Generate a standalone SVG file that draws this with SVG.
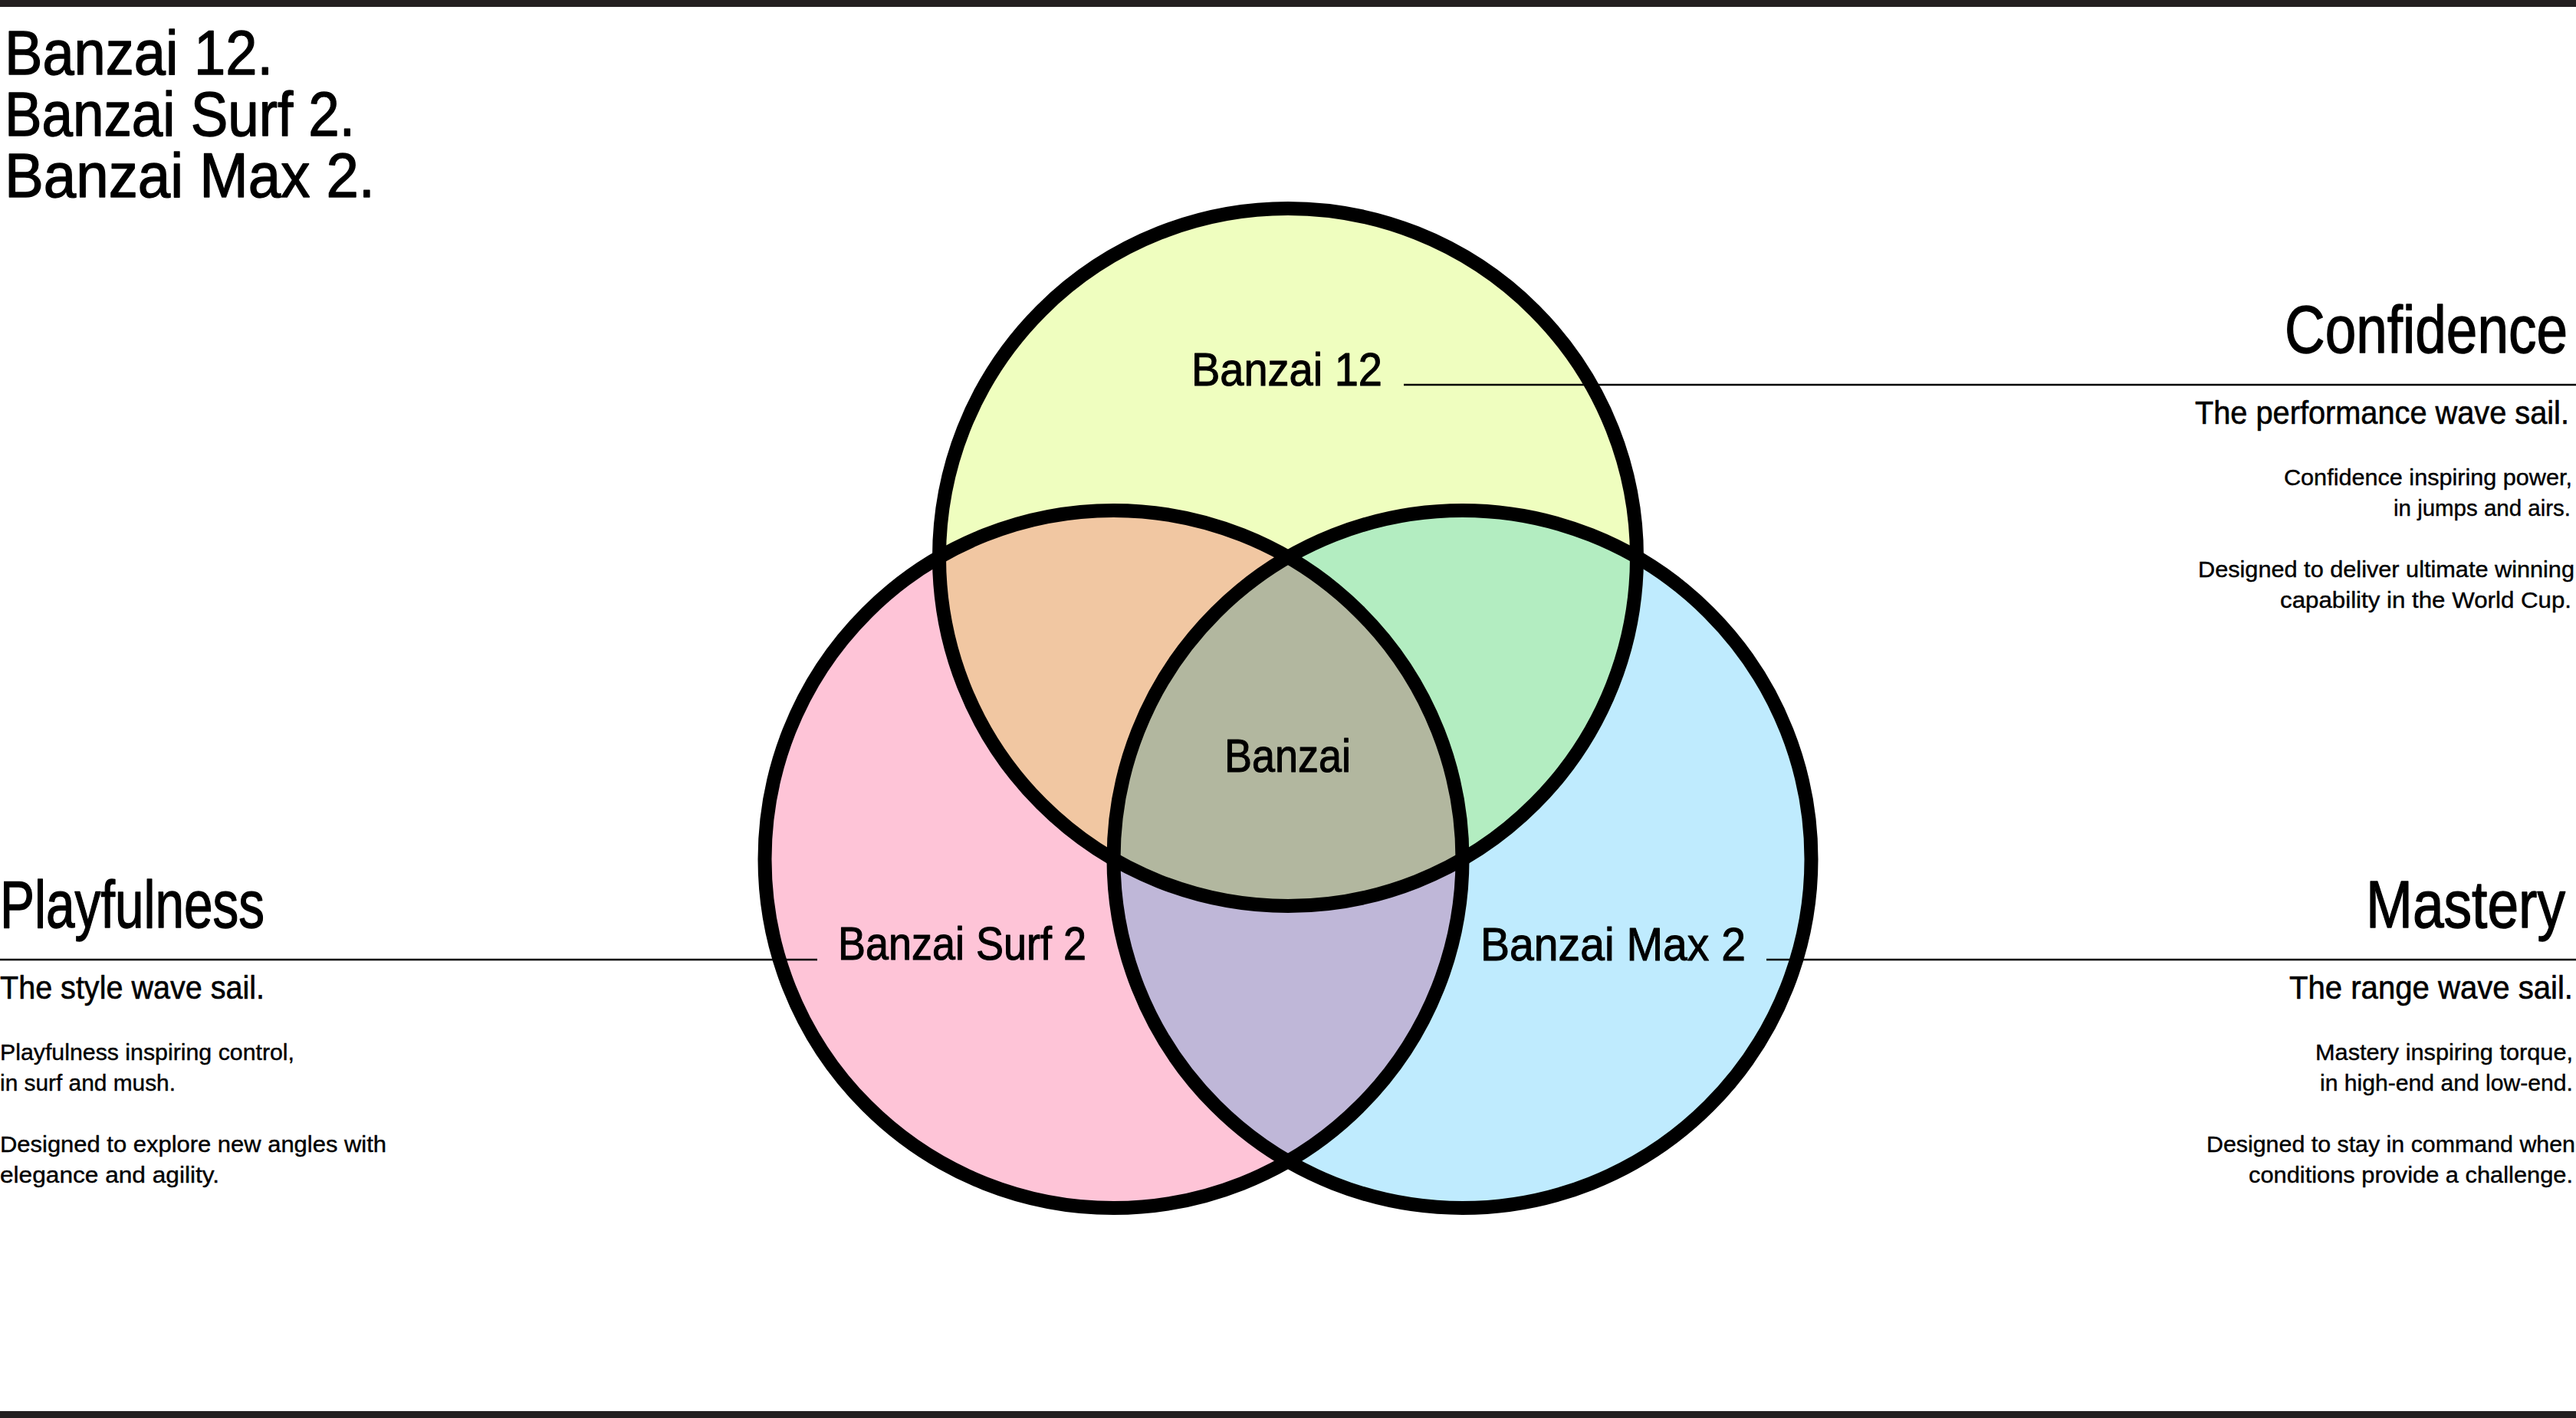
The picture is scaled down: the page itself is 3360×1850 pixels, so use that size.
<svg xmlns="http://www.w3.org/2000/svg" width="3360" height="1850" viewBox="0 0 3360 1850">
<style>
text{font-family:"Liberation Sans",Arial,sans-serif;fill:#000;stroke:#000;stroke-linejoin:round}
.title{font-size:82px;stroke-width:1.4}
.head{font-size:87px;stroke-width:1.4}
.lbl{font-size:62px;stroke-width:1.1}
.sub{font-size:42px;stroke-width:0.6}
.body{font-size:29px;stroke-width:0.4}
.r{text-anchor:end}
.ring{fill:none;stroke:#000;stroke-width:18}
.conn{stroke:#000;stroke-width:2.5;fill:none}
</style>
<defs>
<clipPath id="clipT"><circle cx="1680" cy="727" r="455"/></clipPath>
<clipPath id="clipL"><circle cx="1452.5" cy="1121" r="455"/></clipPath>
</defs>
<rect x="0" y="0" width="3360" height="1850" fill="#fff"/>
<rect x="0" y="0" width="3360" height="9" fill="#231F20"/>
<rect x="0" y="1841" width="3360" height="9" fill="#231F20"/>

<g id="header">
<text class="title" x="6" y="97" textLength="350" lengthAdjust="spacingAndGlyphs">Banzai 12.</text>
<text class="title" x="6" y="177" textLength="457" lengthAdjust="spacingAndGlyphs">Banzai Surf 2.</text>
<text class="title" x="6" y="257" textLength="483" lengthAdjust="spacingAndGlyphs">Banzai Max 2.</text>
</g>

<g id="venn-fills">
<circle cx="1680" cy="727" r="455" fill="#EFFEBF"/>
<circle cx="1452.5" cy="1121" r="455" fill="#FEC4D7"/>
<circle cx="1907.5" cy="1121" r="455" fill="#BFEBFE"/>
<circle cx="1452.5" cy="1121" r="455" fill="#F1C7A2" clip-path="url(#clipT)"/>
<circle cx="1907.5" cy="1121" r="455" fill="#B3EDC1" clip-path="url(#clipT)"/>
<circle cx="1907.5" cy="1121" r="455" fill="#BFB7D8" clip-path="url(#clipL)"/>
<g clip-path="url(#clipL)"><circle cx="1907.5" cy="1121" r="455" fill="#B2B79F" clip-path="url(#clipT)"/></g>
</g>

<g id="connectors">
<line class="conn" x1="1831" y1="502" x2="3360" y2="502"/>
<line class="conn" x1="0" y1="1252" x2="1066" y2="1252"/>
<line class="conn" x1="2304" y1="1252" x2="3360" y2="1252"/>
</g>

<g id="node-banzai12">
<circle class="ring" cx="1680" cy="727" r="455"/>
<text class="lbl" x="1554" y="503" textLength="249" lengthAdjust="spacingAndGlyphs">Banzai 12</text>
</g>
<g id="node-banzaisurf2">
<circle class="ring" cx="1452.5" cy="1121" r="455"/>
<text class="lbl" x="1093" y="1252" textLength="324" lengthAdjust="spacingAndGlyphs">Banzai Surf 2</text>
</g>
<g id="node-banzaimax2">
<circle class="ring" cx="1907.5" cy="1121" r="455"/>
<text class="lbl" x="1931" y="1253" textLength="346" lengthAdjust="spacingAndGlyphs">Banzai Max 2</text>
</g>
<g id="node-banzai">
<text class="lbl" x="1597" y="1007" textLength="165" lengthAdjust="spacingAndGlyphs">Banzai</text>
</g>

<g id="node-confidence">
<text class="head r" x="3349" y="460" textLength="369" lengthAdjust="spacingAndGlyphs">Confidence</text>
<text class="sub r" x="3351" y="553" textLength="488" lengthAdjust="spacingAndGlyphs">The performance wave sail.</text>
<text class="body r" x="3355" y="633" textLength="376" lengthAdjust="spacingAndGlyphs">Confidence inspiring power,</text>
<text class="body r" x="3353" y="673" textLength="231" lengthAdjust="spacingAndGlyphs">in jumps and airs.</text>
<text class="body r" x="3358" y="753" textLength="491" lengthAdjust="spacingAndGlyphs">Designed to deliver ultimate winning</text>
<text class="body r" x="3354" y="793" textLength="380" lengthAdjust="spacingAndGlyphs">capability in the World Cup.</text>
</g>

<g id="node-playfulness">
<text class="head" x="0" y="1210" textLength="345" lengthAdjust="spacingAndGlyphs">Playfulness</text>
<text class="sub" x="0" y="1303" textLength="345" lengthAdjust="spacingAndGlyphs">The style wave sail.</text>
<text class="body" x="0" y="1383" textLength="384" lengthAdjust="spacingAndGlyphs">Playfulness inspiring control,</text>
<text class="body" x="0" y="1423" textLength="229" lengthAdjust="spacingAndGlyphs">in surf and mush.</text>
<text class="body" x="0" y="1503" textLength="504" lengthAdjust="spacingAndGlyphs">Designed to explore new angles with</text>
<text class="body" x="0" y="1543" textLength="286" lengthAdjust="spacingAndGlyphs">elegance and agility.</text>
</g>

<g id="node-mastery">
<text class="head r" x="3346" y="1210" textLength="260" lengthAdjust="spacingAndGlyphs">Mastery</text>
<text class="sub r" x="3356" y="1303" textLength="370" lengthAdjust="spacingAndGlyphs">The range wave sail.</text>
<text class="body r" x="3356" y="1383" textLength="336" lengthAdjust="spacingAndGlyphs">Mastery inspiring torque,</text>
<text class="body r" x="3356" y="1423" textLength="330" lengthAdjust="spacingAndGlyphs">in high-end and low-end.</text>
<text class="body r" x="3359" y="1503" textLength="481" lengthAdjust="spacingAndGlyphs">Designed to stay in command when</text>
<text class="body r" x="3356" y="1543" textLength="423" lengthAdjust="spacingAndGlyphs">conditions provide a challenge.</text>
</g>
</svg>
